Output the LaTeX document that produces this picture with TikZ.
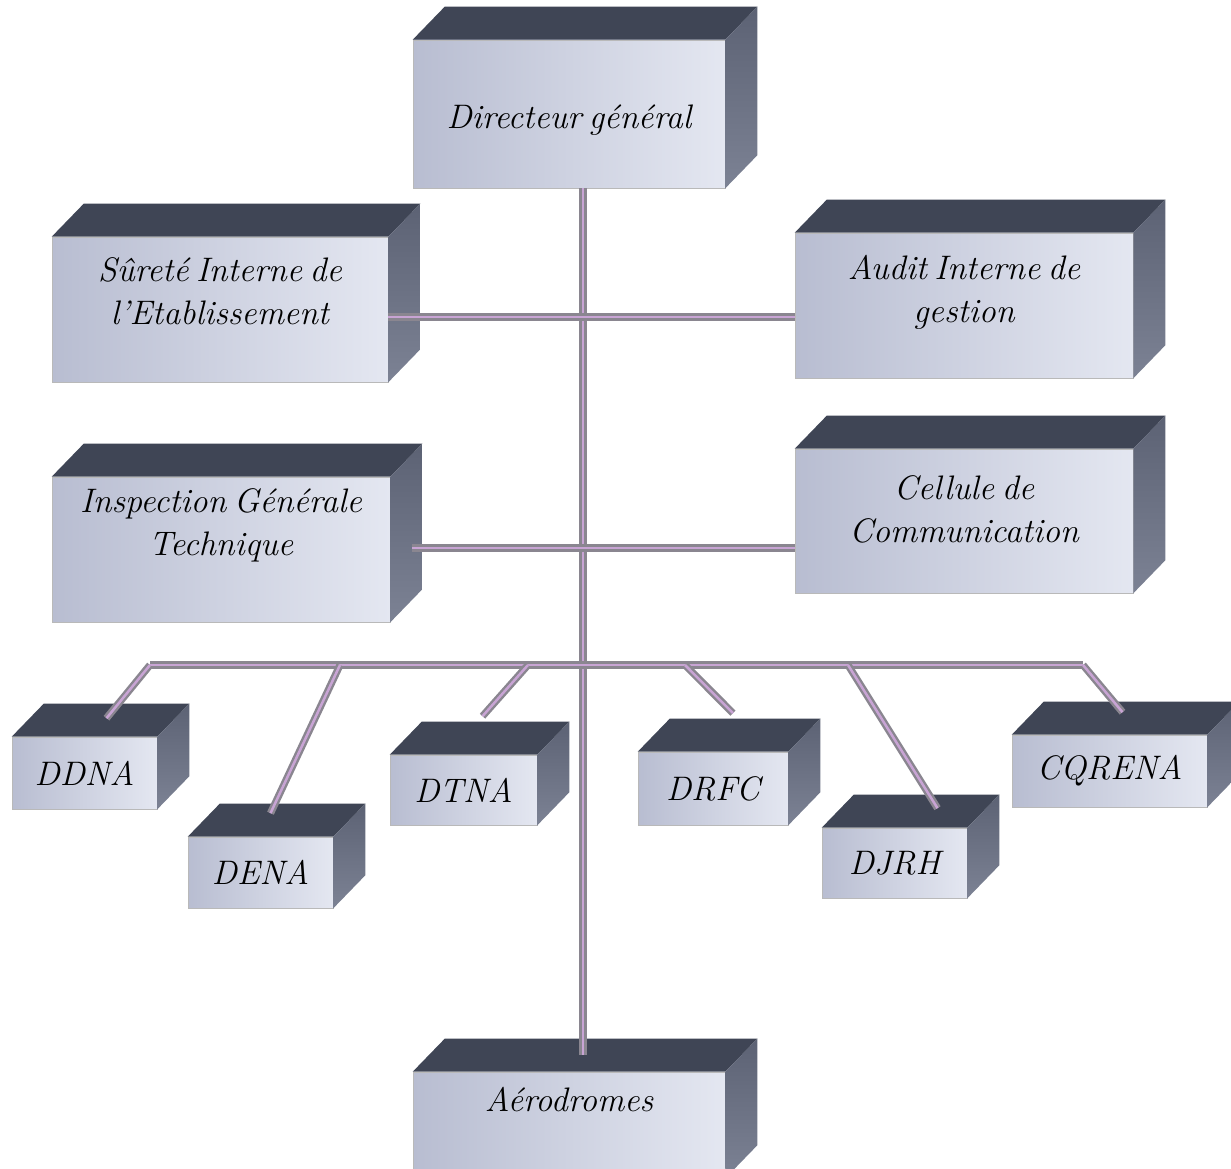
\documentclass[tikz,border=0pt]{standalone}
\usepackage{fontspec}
\usetikzlibrary{positioning, calc}
\definecolor{frontA}{HTML}{B8BDD1}
\definecolor{frontB}{HTML}{E4E7F1}
\definecolor{topface}{HTML}{3F4555}
\definecolor{sideA}{HTML}{5C6274}
\definecolor{sideB}{HTML}{7C8294}
\definecolor{linkgrey}{HTML}{8A8690}
\definecolor{linklilac}{HTML}{C8A4D4}
\newcommand{\tightspace}{\spaceskip=0.22em\relax}
\tikzset{x=1pt, y=-1pt, % one unit is one pixel of the scan
        front/.style={ % front face of every box
            left color=frontA, right color=frontB,
            draw=gray!55, line width=0.6pt,
            inner sep=0pt},
        sideshade/.style={top color=sideA, bottom color=sideB},
        boxtext/.style={ % labels, set in italic
            font=\fontsize{34}{43}\selectfont\itshape,
            execute at begin node=\tightspace,
            align=center, inner sep=0pt},
        link/.style={ % the two-tone connectors
            draw=linkgrey, double=linklilac,
            double distance=2.5pt, line width=2.4pt}
        }
% box: name, centre, width, height, text shift, text
\newcommand{\orgbox}[6]{%
    \node[front, minimum width=#3, minimum height=#4] (#1) at (#2) {};
    \fill[topface] (#1.north west) -- ++(32,-33)
        -- ([shift={(32,-33)}]#1.north east) -- (#1.north east) -- cycle;
    \shade[sideshade] (#1.north east) -- ++(32,-33)
        -- ([shift={(32,-33)}]#1.south east) -- (#1.south east) -- cycle;
    \coordinate (#1-top) at ([shift={(16,-16.5)}]#1.north);
    \node[boxtext] (#1-txt) at ([yshift=#5]#1.center) {#6};
}

\begin{document}
\begin{tikzpicture}
    \useasboundingbox (0,0) rectangle (1231,1169);
    \clip (0,0) rectangle (1231,1169);

    % upper boxes
    \orgbox{dg}{569,114}{312pt}{148pt}{-6pt}{Directeur général}
    \orgbox{sie}{220,309.5}{336pt}{145pt}{18pt}{Sûreté Interne de\\l’Etablissement}
    \orgbox{aig}{964,305.5}{338pt}{145pt}{13pt}{Audit Interne de\\gestion}
    \orgbox{igt}{221,549.5}{338pt}{145pt}{24pt}{Inspection Générale\\Technique}
    \orgbox{cdc}{964,521}{338pt}{144pt}{12pt}{Cellule de\\Communication}

    % directions
    \orgbox{ddna}{84.5,773}{145pt}{72pt}{0pt}{DDNA}
    \orgbox{dena}{260.5,872.5}{145pt}{71pt}{0pt}{DENA}
    \orgbox{dtna}{463.5,790}{147pt}{70pt}{0pt}{DTNA}
    \orgbox{drfc}{713,788.5}{150pt}{73pt}{0pt}{DRFC}
    \orgbox{djrh}{894.5,863}{145pt}{70pt}{0pt}{DJRH}
    \orgbox{cqrena}{1109.5,771}{195pt}{72pt}{0pt}{CQRENA}

    \orgbox{aero}{569,1125}{312pt}{106pt}{25pt}{Aérodromes}

    % junctions
    \coordinate (trunk) at (583,0);
    \coordinate (j1) at (583,317);
    \coordinate (j2) at (583,548);
    \coordinate (busL) at (150,665);
    \coordinate (busR) at (1083,665);
    \coordinate (tapB) at (340,665);
    \coordinate (tapC) at (528,665);
    \coordinate (tapD) at (685,665);
    \coordinate (tapE) at (848,665);

    \draw[link] (dg.south -| trunk) -- (aero-top -| trunk);
    \draw[link] (sie.east |- j1) -- (aig.west |- j1);
    \draw[link] ([xshift=22pt]igt.east |- j2) -- (cdc.west |- j2);
    \draw[link] (busL) -- (busR);

    \draw[link] (busL) -- ([shift={(6,-2)}]ddna-top);
    \draw[link] (tapB) -- ([shift={(-6,-7)}]dena-top);
    \draw[link] (tapC) -- ([shift={(3,-22)}]dtna-top);
    \draw[link] (tapD) -- ([shift={(4,-22)}]drfc-top);
    \draw[link] (tapE) -- ([shift={(27,-3)}]djrh-top);
    \draw[link] (busR) -- ([shift={(-3,-6)}]cqrena-top);
\end{tikzpicture}
\end{document}
